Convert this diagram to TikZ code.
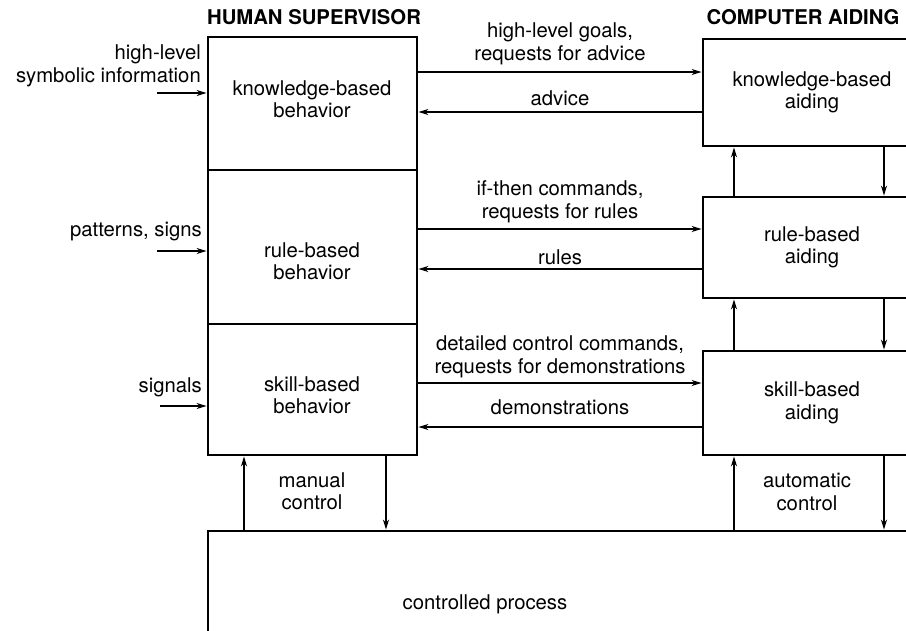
\documentclass[tikz,border=0pt]{standalone}
\usepackage{fontspec}
\setmainfont{TeX Gyre Heros}
\usetikzlibrary{arrows.meta}
\begin{document}
\begin{tikzpicture}[x=1pt,y=-1pt,
  every node/.style={font=\fontsize{20.3}{22.5}\selectfont, align=center, inner sep=0pt},
  title/.style={font=\fontsize{20.3}{22.5}\selectfont\bfseries},
  box/.style={draw, line width=2.8pt},
  conn/.style={line width=1.7pt, -{Stealth[length=10pt,width=6pt]}}]
\clip (0,0) rectangle (906,630);

% column headings
\node[title] (hsup) at (314,17) {HUMAN SUPERVISOR};
\node[title] (caid) at (803,17) {COMPUTER AIDING};

% human supervisor levels
\node[box, minimum width=209pt, minimum height=133pt] (hk) at (312.5,103.5) {};
\node[box, minimum width=209pt, minimum height=154pt] (hr) at (312.5,247) {};
\node[box, minimum width=209pt, minimum height=131pt] (hs) at (312.5,389.5) {};
\node (hkt) at (312,99) {knowledge-based\\behavior};
\node (hrt) at (312,261) {rule-based\\behavior};
\node (hst) at (312,395) {skill-based\\behavior};

% computer aiding levels
\node[box, minimum width=218pt, minimum height=107pt] (ck) at (812,92.5) {knowledge-based\\aiding};
\node[box, minimum width=218pt, minimum height=101pt] (cr) at (812,247.5) {rule-based\\aiding};
\node[box, minimum width=218pt, minimum height=104pt] (cs) at (812,403) {skill-based\\aiding};

% controlled process
\node[box, minimum width=732pt, minimum height=129pt] (proc) at (574,595.5) {};
\node (proct) at (485,604) {controlled process};

% inputs to the supervisor
\coordinate (in1) at (157,93);
\coordinate (in2) at (157,251);
\coordinate (in3) at (160,406);
\draw[conn] (in1) -- (hk.west |- in1);
\draw[conn] (in2) -- (hr.west |- in2);
\draw[conn] (in3) -- (hs.west |- in3);
\node[anchor=east, align=right] (in1t) at (201,66) {high-level\\symbolic information};
\node[anchor=east] (in2t) at (202,232) {patterns, signs};
\node[anchor=east] (in3t) at (202,387) {signals};

% exchanges between supervisor and aiding
\coordinate (e1) at (0,72);
\coordinate (e2) at (0,112);
\coordinate (e3) at (0,229);
\coordinate (e4) at (0,269);
\coordinate (e5) at (0,383);
\coordinate (e6) at (0,427);
\draw[conn] (hk.east |- e1) -- (ck.west |- e1);
\draw[conn] (ck.west |- e2) -- (hk.east |- e2);
\draw[conn] (hr.east |- e3) -- (cr.west |- e3);
\draw[conn] (cr.west |- e4) -- (hr.east |- e4);
\draw[conn] (hs.east |- e5) -- (cs.west |- e5);
\draw[conn] (cs.west |- e6) -- (hs.east |- e6);
\node (e1t) at (560,44) {high-level goals,\\requests for advice};
\node (e2t) at (560,98) {advice};
\node (e3t) at (560,202) {if-then commands,\\requests for rules};
\node (e4t) at (560,257) {rules};
\node (e5t) at (560,357) {detailed control commands,\\requests for demonstrations};
\node (e6t) at (560,407) {demonstrations};

% links between aiding levels and to the process
\coordinate (up) at (734,0);
\coordinate (dn) at (884,0);
\draw[conn] (cr.north -| up) -- (ck.south -| up);
\draw[conn] (ck.south -| dn) -- (cr.north -| dn);
\draw[conn] (cs.north -| up) -- (cr.south -| up);
\draw[conn] (cr.south -| dn) -- (cs.north -| dn);
\draw[conn] (proc.north -| up) -- (cs.south -| up);
\draw[conn] (cs.south -| dn) -- (proc.north -| dn);
\node (autot) at (807,492) {automatic\\control};

% manual control
\coordinate (mu) at (244,0);
\coordinate (md) at (386,0);
\draw[conn] (proc.north -| mu) -- (hs.south -| mu);
\draw[conn] (hs.south -| md) -- (proc.north -| md);
\node (mant) at (312,491) {manual\\control};
\end{tikzpicture}
\end{document}
